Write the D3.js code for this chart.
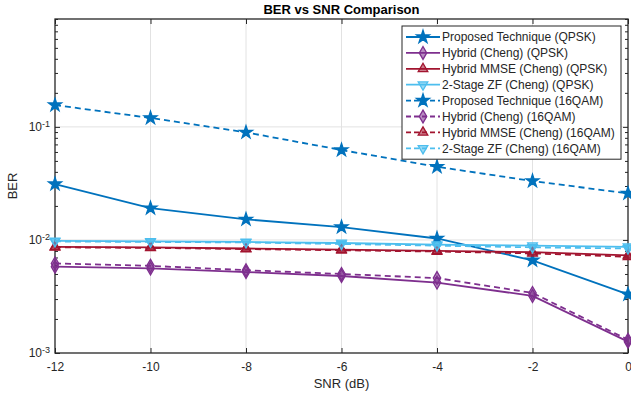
<!DOCTYPE html>
<html>
<head>
<meta charset="utf-8">
<script src="https://cdn.jsdelivr.net/npm/d3@7"></script>
<style>
  body { margin: 0; background: #fff; }
  text { font-family: "Liberation Sans", Arial, sans-serif; }
</style>
</head>
<body>
<svg id="chart" width="631" height="398"></svg>
<script>
// --- data ---
const snr = [-12, -10, -8, -6, -4, -2, 0];

const proposedQPSK   = [0.0312, 0.0191, 0.0152, 0.0130, 0.0103, 0.0066, 0.0033];
const hybridQPSK     = [0.0058, 0.0056, 0.0052, 0.0048, 0.0042, 0.0032, 0.00126];
const mmseQPSK       = [0.0087, 0.0086, 0.0084, 0.0082, 0.0080, 0.0078, 0.0073];
const zfQPSK         = [0.0098, 0.0097, 0.0096, 0.0094, 0.0091, 0.0089, 0.0087];
const proposed16QAM  = [0.156, 0.120, 0.0894, 0.0624, 0.0444, 0.0332, 0.0258];
const hybrid16QAM    = [0.0062, 0.0059, 0.0054, 0.0050, 0.0046, 0.0034, 0.00131];
const mmse16QAM      = [0.0086, 0.0085, 0.0083, 0.0081, 0.0079, 0.0076, 0.0071];
const zf16QAM        = [0.0097, 0.0096, 0.0095, 0.0092, 0.0089, 0.0086, 0.0084];

const xTicks = [-12, -10, -8, -6, -4, -2, 0];
const yMajor = [1e-3, 1e-2, 1e-1];

// series in legend / draw order
const series = [
    { name: "Proposed Technique (QPSK)",   values: proposedQPSK,  color: "#0072BD", marker: "star",     dash: null },
    { name: "Hybrid (Cheng) (QPSK)",       values: hybridQPSK,    color: "#7E2F8E", marker: "diamond",  dash: null },
    { name: "Hybrid MMSE (Cheng) (QPSK)",  values: mmseQPSK,      color: "#A2142F", marker: "triUp",    dash: null },
    { name: "2-Stage ZF (Cheng) (QPSK)",   values: zfQPSK,        color: "#4DBEEE", marker: "triDown",  dash: null },
    { name: "Proposed Technique (16QAM)",  values: proposed16QAM, color: "#0072BD", marker: "star",     dash: "6,4" },
    { name: "Hybrid (Cheng) (16QAM)",      values: hybrid16QAM,   color: "#7E2F8E", marker: "diamond",  dash: "6,4" },
    { name: "Hybrid MMSE (Cheng) (16QAM)", values: mmse16QAM,     color: "#A2142F", marker: "triUp",    dash: "6,4" },
    { name: "2-Stage ZF (Cheng) (16QAM)",  values: zf16QAM,       color: "#4DBEEE", marker: "triDown",  dash: "6,4" }
];

// --- layout ---
const plot = { left: 55, right: 628, top: 19, bottom: 353 };
const svg = d3.select("#chart");

const x = d3.scaleLinear().domain([-12, 0]).range([plot.left, plot.right]);
const y = d3.scaleLog().domain([1e-3, 0.9]).range([plot.bottom, plot.top]);

// grid lines
const grid = svg.append("g").attr("class", "grid");
grid.selectAll(".gx").data(xTicks.slice(1, -1)).join("line")
    .attr("x1", d => x(d)).attr("x2", d => x(d))
    .attr("y1", plot.top).attr("y2", plot.bottom)
    .attr("stroke", "#e2e2e2").attr("stroke-width", 1);
grid.selectAll(".gy").data(yMajor.slice(1)).join("line")
    .attr("x1", plot.left).attr("x2", plot.right)
    .attr("y1", d => y(d)).attr("y2", d => y(d))
    .attr("stroke", "#e2e2e2").attr("stroke-width", 1);

// --- axes (box with inward ticks, like MATLAB) ---
const axisColor = "#262626";
const minorTicks = y.ticks().filter(t => !yMajor.includes(t));

function styleAxis(g) {
    g.select(".domain").remove();
    g.selectAll(".tick line").attr("stroke", axisColor);
    g.selectAll(".tick text").attr("fill", axisColor).style("font-size", "12px");
}

svg.append("g")
    .attr("transform", `translate(0,${plot.bottom})`)
    .call(d3.axisBottom(x).tickValues(xTicks).tickSize(-5).tickPadding(9).tickFormat(d => String(d)))
    .call(styleAxis);
svg.append("g")
    .attr("transform", `translate(0,${plot.top})`)
    .call(d3.axisTop(x).tickValues(xTicks).tickSize(-5).tickFormat(""))
    .call(styleAxis);

// y major ticks with 10^n labels
const yAxis = svg.append("g")
    .attr("transform", `translate(${plot.left},0)`)
    .call(d3.axisLeft(y).tickValues(yMajor).tickSize(-5).tickFormat(""))
    .call(styleAxis);
yAxis.selectAll(".tick").append("text")
    .attr("x", -5).attr("dy", "0.32em").attr("text-anchor", "end")
    .attr("fill", axisColor).style("font-size", "12px")
    .each(function(d) {
        const t = d3.select(this);
        t.append("tspan").text("10");
        t.append("tspan").attr("dy", "-0.45em").style("font-size", "9px").text(String(Math.round(Math.log10(d))));
    });
svg.append("g")
    .attr("transform", `translate(${plot.left},0)`)
    .call(d3.axisLeft(y).tickValues(minorTicks).tickSize(-3).tickFormat(""))
    .call(styleAxis);
svg.append("g")
    .attr("transform", `translate(${plot.right},0)`)
    .call(d3.axisRight(y).tickValues(yMajor).tickSize(-5).tickFormat(""))
    .call(styleAxis);
svg.append("g")
    .attr("transform", `translate(${plot.right},0)`)
    .call(d3.axisRight(y).tickValues(minorTicks).tickSize(-3).tickFormat(""))
    .call(styleAxis);

// box
svg.append("rect")
    .attr("x", plot.left).attr("y", plot.top)
    .attr("width", plot.right - plot.left).attr("height", plot.bottom - plot.top)
    .attr("fill", "none").attr("stroke", axisColor).attr("stroke-width", 1.3);

// labels & title
svg.append("text")
    .attr("x", (plot.left + plot.right) / 2).attr("y", 388)
    .attr("text-anchor", "middle").attr("fill", axisColor).style("font-size", "13px")
    .text("SNR (dB)");
svg.append("text")
    .attr("transform", `translate(17,${(plot.top + plot.bottom) / 2}) rotate(-90)`)
    .attr("text-anchor", "middle").attr("fill", axisColor).style("font-size", "13px")
    .text("BER");
svg.append("text")
    .attr("x", (plot.left + plot.right) / 2).attr("y", 14)
    .attr("text-anchor", "middle").attr("fill", "#000").style("font-size", "13px").style("font-weight", "bold")
    .text("BER vs SNR Comparison");

// --- markers ---
const markerShapes = {
    star:    { type: d3.symbolStar,     size: 52, rot: 0 },
    diamond: { type: d3.symbolDiamond,  size: 48, rot: 0 },
    triUp:   { type: d3.symbolTriangle, size: 40, rot: 0 },
    triDown: { type: d3.symbolTriangle, size: 40, rot: 180 }
};
function drawMarker(g, s, cx, cy) {
    const m = markerShapes[s.marker];
    g.append("path")
        .attr("d", d3.symbol().type(m.type).size(m.size)())
        .attr("transform", `translate(${cx},${cy}) rotate(${m.rot})`)
        .attr("fill", s.color)
        .attr("fill-opacity", s.marker === "star" ? 1 : 0.55)
        .attr("stroke", s.color).attr("stroke-width", 1.3);
}

// --- lines ---
const line = d3.line().x(d => x(d[0])).y(d => y(d[1]));
series.forEach(s => {
    const pts = snr.map((v, i) => [v, s.values[i]]);
    const g = svg.append("g");
    g.append("path")
        .attr("d", line(pts))
        .attr("fill", "none").attr("stroke", s.color).attr("stroke-width", 1.8)
        .attr("stroke-dasharray", s.dash);
    pts.forEach(p => drawMarker(g, s, x(p[0]), y(p[1])));
});

// --- legend ---
const leg = { x: 402, y: 26, w: 219, rowH: 15.9 };
const legend = svg.append("g");
legend.append("rect")
    .attr("x", leg.x).attr("y", leg.y)
    .attr("width", leg.w).attr("height", series.length * leg.rowH + 6)
    .attr("fill", "#fff").attr("stroke", axisColor).attr("stroke-width", 1);
series.forEach((s, i) => {
    const cy = leg.y + 11 + i * leg.rowH;
    legend.append("line")
        .attr("x1", leg.x + 4).attr("x2", leg.x + 38)
        .attr("y1", cy).attr("y2", cy)
        .attr("stroke", s.color).attr("stroke-width", 1.8)
        .attr("stroke-dasharray", s.dash ? "5,3" : null);
    drawMarker(legend, s, leg.x + 21, cy);
    legend.append("text")
        .attr("x", leg.x + 40).attr("y", cy).attr("dy", "0.35em")
        .attr("fill", axisColor).style("font-size", "12px")
        .text(s.name);
});
</script>
</body>
</html>
